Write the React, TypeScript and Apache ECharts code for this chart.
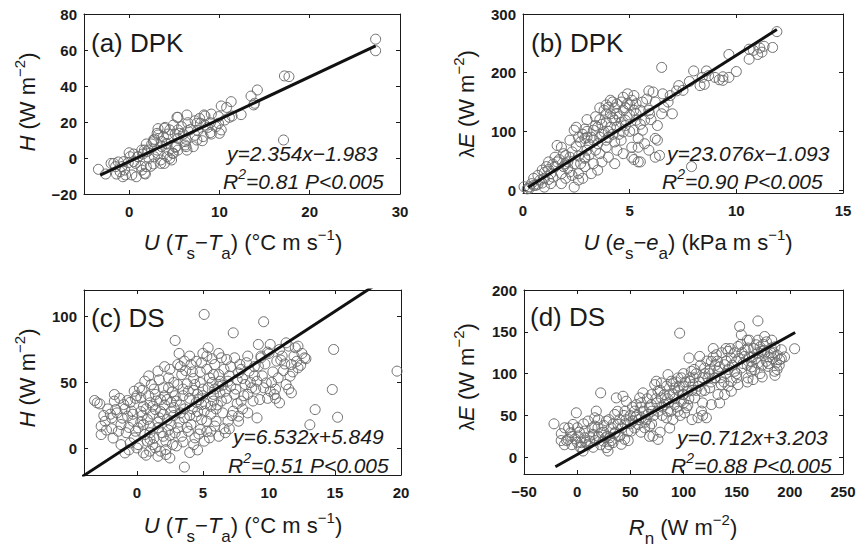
import React, { useEffect, useRef } from "react";
import * as echarts from "echarts";

// ---------------- data ----------------
const dpkSensible: number[][] = [
  [27.3, 66], [27.3, 59.6], [17.2, 45.6], [17.7, 45.2], [17.1, 10],
  [14.2, 37.8], [13.5, 34.4], [13.9, 30.4], [11.3, 31.3], [10.8, 28.1], [12.4, 24.1], [11.1, 22.6],
  [9.9, 23], [9.1, 24.4], [8.4, 23.3], [7.9, 19.3], [7.3, 20.7], [6.5, 19.6], [5.4, 22.6], [4.0, 17],
  [3.2, 16.3], [4.3, 13.3], [5.4, 15.6], [6.5, 15.2], [7.6, 15.2], [8.4, 18.3], [9.1, 13.3], [9.6, 17.4],
  [10.2, 15.6], [9.0, 19.6], [9.9, 19.3], [8.1, 9.6], [7.3, 12.6], [6.3, 10.4], [6.3, 6.3], [5.4, 10.9],
  [5.1, 5.9], [4.1, 8.1], [4.4, 4.4], [3.6, 6.3], [3.2, 2.6], [2.5, 7.8], [2.1, 4.4], [1.4, 4.4],
  [1.0, 0.7], [0.5, 2.2], [0.1, 0.7], [-0.1, -2.6], [-1.2, -2.2], [-1.5, -4.8], [-0.5, -6.7], [-1.4, -8.9],
  [-0.7, -10.4], [0.3, -9.4], [0.8, -10.4], [1.7, -8.5], [1.9, -4.8], [2.7, -3.3], [3.5, -1.1], [4.2, 0.7],
  [4.9, 2.6], [5.4, 4.4], [6.2, 9.1], [-3.4, -6.3], [-2.6, -8.9], [-2.0, -3.0], [-0.8, -4.8], [1.4, -6.7],
  [2.8, 0.7], [3.9, -3], [4.7, -1.1], [3.6, 9.1], [2.8, 10.4], [1.7, 4.4], [0.7, -3], [2.2, -0.2],
  [1.5, 2.2], [3.2, 12.8], [2.7, 9.1], [7.5, 10.0], [7.1, 6.3], [5.8, 17.4], [4.9, 18.3], [4.5, 15.6],
  [3.8, 11.9], [5.1, 13.3], [6.0, 13.3], [6.8, 15.9], [8.7, 17], [7.8, 22.0], [10.6, 21.1], [11.4, 23.3],
  [10.2, 28.9], [13.8, 29.5], [0.0, 2.9], [-0.6, -2], [-0.4, -9.4], [-1.0, -7.6], [-1.7, -3], [1.8, -8.9],
  [1.3, -4.6], [2.4, -4.6], [3.5, -3], [4.5, -0.2], [4.8, 2.6], [5.2, 6.3], [2.0, 3.5], [1.9, 7.8],
  [0.96, 0.7], [0.5, -2], [5.3, 22.6], [6.4, 23.9], [8.3, 23.9], [9.0, 14.1], [10.0, 13.7], [7.5, 19.3],
  [8.2, 11.9], [4.2, 7.8], [3.1, 4.4], [2.7, 10], [3.9, 16.5], [3.1, 13.7], [6.4, 4.4], [6.2, 7.2], [5.6, 13.7],
];

const dpkLatent: number[][] = [
  [0.05, 5.6], [0.3, 5.6], [0.4, 11], [0.5, 20], [0.7, 25], [0.9, 34], [0.8, 17], [1.1, 40], [1.2, 48],
  [1.3, 28], [1.5, 40], [1.6, 48], [1.3, 11], [1.8, 11], [1.8, 28], [2.1, 37], [2.1, 48], [2.2, 56],
  [2.0, 59], [1.8, 73], [2.2, 31], [2.4, 45], [2.6, 58], [2.4, 102], [2.5, 107], [2.7, 82], [2.9, 88],
  [3.0, 90], [3.0, 68], [2.9, 56], [2.9, 40], [3.3, 45], [3.4, 68], [3.5, 79], [3.6, 90], [3.2, 90],
  [3.8, 99], [3.5, 107], [3.9, 116], [3.8, 136], [4.0, 141], [4.1, 153], [4.4, 147], [4.4, 130], [4.3, 119],
  [4.1, 107], [4.0, 90], [3.9, 73], [4.3, 82], [4.4, 68], [4.6, 85], [4.7, 99], [4.8, 119], [4.7, 136],
  [4.7, 158], [4.9, 147], [5.1, 153], [5.2, 136], [5.3, 119], [5.2, 102], [5.4, 88], [5.1, 73], [5.1, 56],
  [5.4, 48], [5.6, 102], [5.7, 119], [5.9, 136], [6.1, 167], [6.2, 150], [6.2, 88], [6.2, 56], [6.5, 209],
  [6.5, 130], [6.6, 141], [7.0, 130], [7.3, 178], [7.2, 169], [6.9, 161], [7.9, 40], [8.0, 203], [8.3, 178],
  [8.4, 192], [8.7, 195], [9.0, 192], [1.5, 56], [1.6, 76], [1.9, 40], [2.6, 28], [2.6, 17], [3.2, 28],
  [3.5, 34], [3.7, 48], [4.0, 56], [4.3, 45], [4.7, 62], [2.9, 54], [4.4, 107], [5.7, 79], [5.4, 73],
  [5.9, 68], [5.5, 136], [4.9, 164], [5.2, 161], [4.6, 150], [3.9, 130], [3.3, 102], [2.9, 104], [9.65, 192],
  [9.37, 193], [9.37, 187], [10.0, 202], [9.65, 231], [10.6, 223], [10.6, 240], [11.0, 231], [11.1, 242],
  [11.3, 245], [11.7, 243], [11.9, 270], [8.6, 203], [8.5, 180], [6.55, 164], [5.9, 169], [5.93, 130],
  [6.3, 110], [6.3, 85], [6.4, 59], [5.5, 48], [5.2, 52], [5.3, 147], [0.6, 8], [1.0, 20], [0.2, 2],
  [0.9, 12], [1.4, 22], [2.0, 20], [2.3, 25], [2.7, 45], [3.1, 60], [3.6, 62], [4.0, 100], [4.2, 123],
  [3.7, 112], [3.4, 125], [4.5, 95], [4.8, 110], [5.0, 128], [5.5, 112], [6.0, 120], [6.8, 150], [7.5, 170],
  [7.8, 185], [9.2, 188], [10.8, 238], [11.2, 235],
  [1.0, 30], [1.2, 35], [1.4, 44], [1.7, 52], [1.9, 62], [2.0, 45], [2.3, 65], [2.5, 75], [2.8, 95],
  [3.0, 100], [3.1, 78], [3.3, 85], [3.4, 110], [3.6, 120], [3.7, 95], [3.9, 85], [4.1, 130], [4.2, 95],
  [4.3, 140], [4.5, 125], [4.6, 115], [4.8, 140], [5.0, 100], [5.0, 145], [5.3, 130], [5.6, 150], [5.8, 155],
  [4.2, 150], [3.9, 145], [3.6, 140], [2.2, 85], [2.6, 90], [3.0, 120], [0.3, 3], [0.5, 8], [0.7, 10],
  [1.0, 5], [1.2, 18], [2.4, 5], [2.8, 20],
];

const dsSensible: number[][] = [
  [-3.2, 36.4], [-3.0, 34.6], [-2.8, 33.8], [-2.7, 16.9], [-2.7, 10.6], [-2.4, 20.7], [-1.9, 23.2],
  [-1.7, 40.9], [-1.7, 35.9], [-1.6, 29.5], [-1.4, 13.1], [-1.2, 18.2], [-1.2, 3.0], [-0.9, -3.3],
  [-1.0, 33.3], [-0.7, 36.4], [-0.7, 24.5], [-0.4, 28.3], [-0.3, 20.7], [-0.1, 13.1], [-0.2, 8.1],
  [-0.2, 43.4], [0.2, 46], [0.3, 38.4], [0.5, 32], [0.1, 15.7], [0.5, 18.2], [0.6, 10.6], [0.8, 5.6],
  [1.2, 3.0], [0.97, -2.0], [1.6, -5.8], [0.0, 0.5], [0.6, 51], [1.1, 48.5], [1.4, 41], [1.6, 58.6],
  [1.0, 34.6], [1.4, 29.5], [1.7, 23.2], [1.6, 15.7], [2.0, 9.3], [2.2, 5.6], [2.2, -0.8], [2.5, -7.1],
  [2.2, -4.5], [2.4, 53.5], [2.0, 46], [2.3, 37.1], [2.6, 28.3], [3.0, 35.9], [3.1, 48.5], [3.4, 56],
  [3.6, 66.2], [4.0, 70], [4.1, 63.6], [3.1, 63.6], [3.7, 59], [4.4, 48.5], [4.6, 41], [3.9, 43.4],
  [4.9, 33.3], [4.5, 24.5], [4.1, 18.2], [3.9, 13.1], [4.4, 8.1], [4.8, 14.4], [5.1, 28.3], [5.3, 20.7],
  [5.5, 53.5], [5.4, 76.3], [5.3, 70], [5.9, 63.6], [6.2, 56], [6.2, 47.2], [5.8, 41], [6.4, 35.9],
  [6.7, 43.4], [6.9, 51], [6.5, 27], [6.0, 20.7], [5.6, 13.1], [6.9, 20.7], [7.3, 28.3], [7.4, 68.7],
  [7.8, 63.6], [7.7, 57.3], [8.2, 48.5], [7.4, 41], [7.9, 35.9], [7.7, 20.7], [6.4, 68.7], [6.8, 67.4],
  [8.4, 41], [8.7, 46], [9.1, 51], [9.2, 62.4], [9.4, 68.7], [10.1, 78.8], [10.6, 66.2], [11.0, 70],
  [11.5, 77.5], [12.0, 76.3], [12.2, 77.5], [11.7, 63.6], [11.1, 59], [11.3, 48.5], [10.7, 53.5],
  [9.8, 49.7], [9.6, 46], [10.1, 43.4], [9.3, 37.1], [10.4, 40.9], [11.7, 42.2], [10.8, 34.6], [12.7, 68.7],
  [12.2, 61.1], [11.6, 54.8], [9.2, 78.8], [9.4, 70], [8.4, 70], [8.5, 58.6], [7.7, 24.5], [8.4, 27],
  [9.1, 23.2], [3.1, 15.7], [3.4, 9.3], [3.6, 23.2], [2.6, 18.2], [2.9, 11.9], [4.3, 3.0], [5.1, 5.6],
  [6.2, 9.3], [5.5, 8.1], [-0.5, 4.3], [0.5, -3.3], [1.4, 0.5],
  [5.1, 101.5], [2.9, 81.8], [9.6, 96], [7.3, 87.6], [3.6, -14], [19.7, 58.6], [14.9, 75], [14.8, 44.7],
  [15.2, 23.7], [13.5, 29.5], [13.1, 18],
  [2.0, 26], [2.8, 31], [3.3, 27], [3.5, 40], [4.2, 30], [4.7, 37], [5.0, 45], [5.6, 32], [6.0, 30],
  [5.8, 56], [4.8, 58], [4.3, 53], [3.8, 49], [2.7, 43], [1.8, 37], [1.2, 26], [0.8, 22], [-0.6, 16],
  [-2.0, 26], [0.3, 28], [1.0, 12], [2.4, 14], [3.0, 2], [4.6, -1], [6.6, 15], [7.1, 47], [8.0, 53],
  [8.9, 55], [10.3, 58], [11.9, 70], [12.5, 72], [10.9, 67], [9.9, 73], [6.3, 42], [7.6, 34], [2.1, 62],
  [3.2, 72], [4.9, 65], [6.6, 60], [1.3, 45], [0.0, 40], [-1.3, 38],
  [-2.5, 25], [-2.2, 30], [-1.9, 15], [-1.5, 27], [-1.1, 23], [-0.9, 30], [-0.8, 12], [-0.5, 35],
  [-0.3, 26], [-0.1, 38], [-2.3, 14], [-1.8, 8], [-0.6, -1], [0.1, 3],
  [0.3, 20], [0.4, 25], [0.7, 30], [0.9, 40], [1.0, 17], [1.2, 32], [1.3, 8], [1.5, 36], [1.6, 20],
  [1.8, 28], [1.9, 12], [2.1, 33], [2.1, 40], [2.3, 22], [2.4, 46], [2.5, 10], [2.6, 35], [2.8, 25],
  [2.9, 40], [2.8, 50], [0.4, 44], [0.9, 55], [1.7, 52], [2.5, 60], [0.7, -5], [1.8, -2], [2.7, 3], [1.0, 7],
  [3.2, 20], [3.3, 33], [3.5, 45], [3.6, 30], [3.8, 16], [4.0, 25], [4.0, 38], [4.2, 58], [4.3, 44],
  [4.5, 35], [4.6, 28], [4.8, 50], [4.9, 22], [5.0, 40], [5.2, 34], [5.3, 60], [5.4, 46], [5.6, 26],
  [5.7, 50], [5.8, 36], [5.9, 45], [3.5, 5], [4.0, -3], [4.7, 11], [5.3, 13], [5.9, 17], [3.3, 62],
  [4.5, 66], [5.0, 72], [5.7, 68],
  [6.1, 33], [6.3, 51], [6.5, 48], [6.8, 38], [7.0, 55], [7.1, 62], [7.2, 25], [7.5, 45], [7.6, 52],
  [7.9, 60], [8.1, 40], [8.3, 65], [8.6, 50], [8.8, 36], [8.9, 62], [7.0, 15], [6.7, 12], [8.0, 30],
  [9.0, 45], [6.2, 72],
  [9.5, 55], [9.7, 64], [10.0, 72], [10.2, 50], [10.5, 45], [10.8, 75], [11.2, 64], [11.5, 45], [11.8, 58],
  [12.1, 66], [12.4, 63], [12.8, 68], [11.3, 80], [10.5, 38], [9.9, 38],
];

const dsLatent: number[][] = [
  [-21.8, 40], [-14.9, 28.2], [-11.8, 35.3], [-8.6, 21.4], [-6.1, 29.4], [-3.9, 39.3], [-0.8, 53.2],
  [0.2, 35.3], [0.8, 25.4], [3.9, 17.5], [5.5, 7.5], [7.1, 23.4], [2.4, 12.3], [7.1, 31.3], [10.2, 43.3],
  [11.8, 19.4], [14.9, 27.4], [16.5, 47.2], [18.0, 55.2], [16.5, 37.3], [19.6, 35.3], [22.1, 77],
  [22.7, 29.4], [24.3, 19.4], [27.4, 11.5], [29.0, 7.5], [30.6, 23.4], [32.1, 35.3], [27.4, 43.3],
  [35.3, 51.2], [36.8, 71], [43.1, 73], [46.2, 67], [38.4, 39.3], [38.4, 25.4], [41.5, 15.5], [33.7, 17.5],
  [47.8, 31.3], [44.7, 21.4], [52.5, 43.3], [54.1, 55.2], [55.6, 63], [61.9, 77], [58.8, 71], [63.5, 35.3],
  [60.3, 47.2], [66.6, 51.2], [69.7, 63], [71.3, 25.4], [76.0, 21.4], [72.9, 86.9], [76, 79], [74.5, 90.9],
  [79.2, 88.9], [83.9, 47.2], [82.3, 63], [87, 75], [88.6, 90.9], [91.7, 82.9], [94.8, 94.8], [97.9, 67],
  [99.5, 75], [101, 53.2], [102.7, 59.1], [105.8, 90.9], [107.4, 102.8], [108.9, 86.9], [110.5, 71],
  [113.6, 47.2], [116.8, 55.2], [105.2, 118.7], [115.2, 120.6], [119.9, 106.7], [123, 94.8], [126.2, 114.7],
  [130.9, 122.6], [132.4, 102.8], [135.6, 86.9], [138.7, 110.7], [141.8, 126.6], [145, 118.7],
  [148.1, 102.8], [151.3, 132.5], [152.8, 156.3], [154.4, 146.4], [160.7, 130.6], [163.8, 114.7],
  [167, 104.8], [170, 163], [168.5, 134.5], [173.2, 126.6], [176.3, 144.4], [177.9, 114.7], [182.6, 130.6],
  [185.7, 102.8], [187.3, 112.7], [190.4, 116.7], [192, 128.6], [204.5, 129.8], [160.7, 94.8], [151.3, 86.9],
  [145, 79], [132.4, 75], [126.2, 63], [121.5, 47.2], [138.7, 75], [165.4, 92.9], [179.5, 108.7],
  [170, 112.7], [157.5, 120.6], [57.2, 39.3], [50.9, 31.3], [68.2, 37.3], [79.2, 71], [91.7, 63],
  [85.4, 98.8], [104.2, 79], [116.8, 79], [124.6, 82.9], [129.3, 94.8], [145, 90.9], [154.4, 106.7],
  [163.8, 102.8], [176.3, 124.6], [96.4, 148.4], [26.5, 23.4],
  [10, 15], [20, 25], [25, 30], [35, 28], [40, 45], [45, 40], [50, 50], [60, 60], [65, 45], [70, 55],
  [75, 65], [80, 60], [85, 70], [90, 75], [95, 80], [100, 85], [105, 70], [110, 95], [115, 90], [120, 100],
  [125, 105], [130, 110], [135, 95], [140, 100], [150, 115], [155, 125], [160, 110], [165, 120], [170, 125],
  [175, 135], [180, 120], [185, 125], [188, 105], [150, 95], [140, 130], [118, 65], [128, 130], [95, 55],
  [85, 55], [60, 30], [30, 15], [15, 12], [0, 18], [-5, 15], [-10, 20], [45, 55], [55, 48], [70, 75],
  [90, 45], [100, 65], [112, 80], [162, 140], [172, 100], [183, 140], [195, 120], [100, 100], [93, 90],
  [-15, 20], [-12, 15], [-8, 35], [-5, 25], [-2, 22], [2, 30], [4, 12], [6, 40], [8, 18], [12, 25],
  [14, 35], [17, 20], [20, 45], [22, 15], [25, 38], [28, 25], [30, 45], [32, 20], [34, 40], [36, 30],
  [38, 55], [40, 25], [42, 35], [44, 50], [46, 45], [48, 20], [50, 40], [52, 60], [54, 35], [56, 50],
  [58, 45], [60, 65], [62, 55], [64, 42], [66, 70], [68, 60], [70, 40], [72, 50], [74, 70], [76, 55],
  [78, 80], [80, 50], [82, 75], [84, 85], [86, 65], [88, 55], [90, 88], [92, 70], [94, 60], [96, 85],
  [98, 95], [100, 75], [102, 90], [104, 62], [106, 95], [108, 80], [110, 105], [112, 100], [114, 85],
  [116, 110], [118, 95], [120, 80], [122, 115], [124, 100], [126, 90], [128, 120], [130, 95], [132, 115],
  [134, 108], [136, 125], [138, 90], [140, 115], [142, 105], [144, 130], [146, 110], [148, 125], [150, 100],
  [152, 118], [154, 135], [156, 112], [158, 128], [160, 140], [162, 120], [164, 108], [166, 130], [168, 118],
  [170, 140], [172, 132], [174, 110], [176, 128], [178, 138], [180, 112], [182, 125], [184, 118], [186, 132],
  [188, 122], [190, 110], [192, 118], [186, 98], [174, 96], [160, 90], [142, 85], [134, 65], [118, 50],
  [108, 45], [97, 50], [87, 35], [78, 30], [68, 25],
];

// regression: [slope, intercept] and the x extent of the drawn line
const fitCoefs: number[][] = [[2.354, -1.983], [23.076, -1.093], [6.532, 5.849], [0.712, 3.203]];
const fitXExtents: number[][] = [[-3.2, 27.3], [0.25, 11.9], [-5, 20], [-20.5, 205]];

// axes
const xLimits: number[][] = [[-5, 30], [0, 15], [-4, 20], [-50, 250]];
const yLimits: number[][] = [[-20, 80], [-5, 300], [-20, 120], [-20, 200]];
const xTicks: number[][] = [[0, 10, 20, 30], [0, 5, 10, 15], [0, 5, 10, 15, 20], [-50, 0, 50, 100, 150, 200, 250]];
const yTicks: number[][] = [[-20, 0, 20, 40, 60, 80], [0, 100, 200, 300], [0, 50, 100], [0, 50, 100, 150, 200]];

const panelLabels = ["(a) DPK", "(b) DPK", "(c) DS", "(d) DS"];
const equations = ["y=2.354x\u22121.983", "y=23.076x\u22121.093", "y=6.532x+5.849", "y=0.712x+3.203"];
const r2Texts = ["=0.81 P<0.005", "=0.90 P<0.005", "=0.51 P<0.005", "=0.88 P<0.005"];

// ---------------- layout ----------------
const grids = [
  { left: 84, top: 14, width: 316, height: 180 },
  { left: 523, top: 14, width: 320, height: 179 },
  { left: 84, top: 290, width: 317, height: 185 },
  { left: 524, top: 290, width: 319, height: 184 },
];

const FONT = "'Liberation Sans', Arial, Helvetica, sans-serif";
const INK = "#1a1a1a";

const fmt = (v: number) => (v < 0 ? "\u2212" + Math.abs(v) : String(v));

function titleRich(size: number) {
  const base = { fontFamily: FONT, fontSize: size, fill: INK };
  return {
    n: { ...base },
    i: { ...base, fontStyle: "italic" },
    lam: { ...base, fontSize: size - 2 },
    sub: { ...base, fontSize: 17, padding: [21, 0, 0, 0] },
    sup: { ...base, fontSize: 15, padding: [0, 0, 16, 0] },
  };
}

function eqRich() {
  const base = { fontFamily: FONT, fontSize: 21, fill: INK, fontStyle: "italic" };
  return {
    e: { ...base },
    s: { ...base, fontSize: 14, padding: [0, 0, 15, 0] },
  };
}

const xTitleTexts = [
  "{i|U}{n| (}{i|T}{sub|s}{n|\u2212}{i|T}{sub|a}{n|) (°C m s}{sup|\u22121}{n|)}",
  "{i|U}{n| (}{i|e}{sub|s}{n|\u2212}{i|e}{sub|a}{n|) (kPa m s}{sup|\u22121}{n|)}",
  "{i|U}{n| (}{i|T}{sub|s}{n|\u2212}{i|T}{sub|a}{n|) (°C m s}{sup|\u22121}{n|)}",
  "{i|R}{sub|n}{n| (W m}{sup|\u22122}{n|)}",
];
const yTitleTexts = [
  "{i|H}{n| (W m}{sup|\u22122}{n|)}",
  "{lam|\u03bb}{i|E}{n| (W m}{sup|\u22122}{n|)}",
  "{i|H}{n| (W m}{sup|\u22122}{n|)}",
  "{lam|\u03bb}{i|E}{n| (W m}{sup|\u22122}{n|)}",
];
const xTitlePos = [[243, 242.5], [688, 242.5], [243, 525.5], [683, 527.5]];
const yTitlePos = [[27.5, 102], [466.5, 104], [27.5, 378], [466.5, 377]];
const panelLabelPos = [[91, 42.5], [531, 42.5], [91, 318], [530, 317]];
const eqPos = [[227, 153.5], [667, 153.5], [233, 436], [677, 437]];
const r2Pos = [[223, 181.5], [662, 181.5], [228, 465.5], [671, 465]];

const scatterData = [dpkSensible, dpkLatent, dsSensible, dsLatent];

function buildOption() {
  const xAxes: any[] = [];
  const yAxes: any[] = [];
  const series: any[] = [];
  const graphic: any[] = [];

  grids.forEach((_, i) => {
    const axLine = { show: true, onZero: false, lineStyle: { color: INK, width: 1 } };
    const tickStyle = { color: INK, width: 1 };
    const labelStyle = {
      fontFamily: FONT, fontSize: 15, fontWeight: "bold", color: INK, formatter: fmt,
    };
    xAxes.push({
      type: "value", gridIndex: i, position: "bottom", min: xLimits[i][0], max: xLimits[i][1],
      axisLine: axLine,
      axisTick: { show: true, inside: true, length: 4, customValues: xTicks[i], lineStyle: tickStyle },
      axisLabel: { ...labelStyle, margin: 10, customValues: xTicks[i], showMinLabel: true, showMaxLabel: true },
      splitLine: { show: false },
    });
    xAxes.push({
      type: "value", gridIndex: i, position: "top", min: xLimits[i][0], max: xLimits[i][1],
      axisLine: axLine,
      axisTick: { show: true, inside: true, length: 4, customValues: xTicks[i], lineStyle: tickStyle },
      axisLabel: { show: false },
      splitLine: { show: false },
    });
    yAxes.push({
      type: "value", gridIndex: i, position: "left", min: yLimits[i][0], max: yLimits[i][1],
      axisLine: axLine,
      axisTick: { show: true, inside: true, length: 4, customValues: yTicks[i], lineStyle: tickStyle },
      axisLabel: { ...labelStyle, margin: 7, customValues: yTicks[i], showMinLabel: true, showMaxLabel: true },
      splitLine: { show: false },
    });
    yAxes.push({
      type: "value", gridIndex: i, position: "right", min: yLimits[i][0], max: yLimits[i][1],
      axisLine: axLine,
      axisTick: { show: true, inside: true, length: 4, customValues: yTicks[i], lineStyle: tickStyle },
      axisLabel: { show: false },
      splitLine: { show: false },
    });

    series.push({
      type: "scatter", xAxisIndex: 2 * i, yAxisIndex: 2 * i, data: scatterData[i],
      symbol: "circle", symbolSize: 10, z: 2, clip: true,
      itemStyle: { color: "rgba(255,255,255,0)", borderColor: "#6e6e6e", borderWidth: 1, opacity: 1 },
      emphasis: { disabled: true },
    });
    const [a, b] = fitCoefs[i];
    const [x0, x1] = fitXExtents[i];
    series.push({
      type: "line", xAxisIndex: 2 * i, yAxisIndex: 2 * i,
      data: [[x0, a * x0 + b], [x1, a * x1 + b]],
      symbol: "none", clip: true, z: 3,
      lineStyle: { color: "#111", width: 3 },
      emphasis: { disabled: true },
    });

    graphic.push({
      type: "text", x: panelLabelPos[i][0], y: panelLabelPos[i][1], z: 10,
      style: { text: panelLabels[i], fontFamily: FONT, fontSize: 26, fill: INK, align: "left", verticalAlign: "middle" },
    });
    graphic.push({
      type: "text", x: eqPos[i][0], y: eqPos[i][1], z: 10,
      style: {
        text: "{e|" + equations[i] + "}", rich: eqRich(), fontFamily: FONT, fontSize: 21, fill: INK,
        align: "left", verticalAlign: "middle",
      },
    });
    graphic.push({
      type: "text", x: r2Pos[i][0], y: r2Pos[i][1], z: 10,
      style: {
        text: "{e|R}{s|2}{e|" + r2Texts[i] + "}", rich: eqRich(), fontFamily: FONT, fontSize: 21, fill: INK,
        align: "left", verticalAlign: "middle",
      },
    });
    graphic.push({
      type: "text", x: xTitlePos[i][0], y: xTitlePos[i][1], z: 10,
      style: {
        text: xTitleTexts[i], rich: titleRich(22), fontFamily: FONT, fontSize: 22, fill: INK,
        align: "center", verticalAlign: "middle",
      },
    });
    graphic.push({
      type: "text", x: yTitlePos[i][0], y: yTitlePos[i][1], rotation: Math.PI / 2, z: 10,
      style: {
        text: yTitleTexts[i], rich: titleRich(22), fontFamily: FONT, fontSize: 22, fill: INK,
        align: "center", verticalAlign: "middle",
      },
    });
  });

  return {
    animation: false,
    backgroundColor: "#ffffff",
    grid: grids.map((g) => ({ ...g, containLabel: false, outerBoundsMode: "none", show: false })),
    xAxis: xAxes,
    yAxis: yAxes,
    series,
    graphic,
  };
}

export default function App() {
  const ref = useRef<HTMLDivElement>(null);
  useEffect(() => {
    if (!ref.current) return;
    const chart = echarts.init(ref.current, undefined, { renderer: "svg" });
    chart.setOption(buildOption() as any);
    return () => chart.dispose();
  }, []);
  return (
    <div
      ref={ref}
      style={{ position: "absolute", left: 0, top: 0, width: 859, height: 549, background: "#fff" }}
    />
  );
}
